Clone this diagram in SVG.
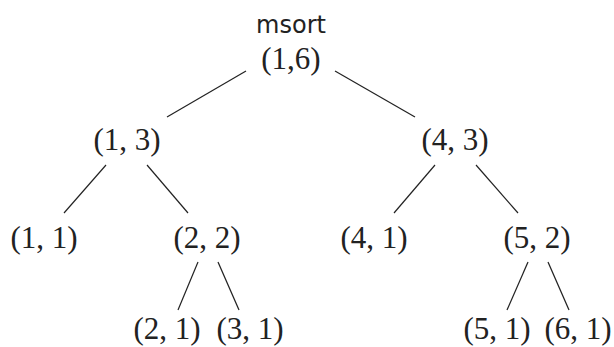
<svg xmlns="http://www.w3.org/2000/svg" width="614" height="347" viewBox="0 0 614 347">
<style>
.t{font-family:"Liberation Serif","DejaVu Serif",serif;font-size:31px;fill:#222;text-anchor:middle}
.s{font-family:"DejaVu Sans","Liberation Sans",sans-serif;font-size:24px;fill:#222;text-anchor:middle}
.e line{stroke:#222;stroke-width:1.2}
</style>
<rect width="614" height="347" fill="#fff"/>
<g class="e" id="edges">
<line x1="246" y1="71" x2="167" y2="117"/>
<line x1="335" y1="71" x2="415" y2="117"/>
<line x1="106" y1="165" x2="64" y2="213"/>
<line x1="147" y1="165" x2="188" y2="213"/>
<line x1="435" y1="165" x2="394" y2="213"/>
<line x1="476" y1="165" x2="518" y2="213"/>
<line x1="198" y1="262" x2="178" y2="310"/>
<line x1="218" y1="262" x2="239" y2="310"/>
<line x1="528" y1="262" x2="507" y2="310"/>
<line x1="548" y1="262" x2="569" y2="310"/>
</g>
<g id="root"><text class="s" x="291" y="33">msort</text><text class="t" x="291" y="69">(1,6)</text></g>
<g id="n13"><text class="t" x="127" y="150">(1, 3)</text></g>
<g id="n43"><text class="t" x="455" y="150">(4, 3)</text></g>
<g id="n11"><text class="t" x="44" y="248">(1, 1)</text></g>
<g id="n22"><text class="t" x="207" y="248">(2, 2)</text></g>
<g id="n41"><text class="t" x="374" y="248">(4, 1)</text></g>
<g id="n52"><text class="t" x="537" y="248">(5, 2)</text></g>
<g id="n21"><text class="t" x="167" y="339">(2, 1)</text></g>
<g id="n31"><text class="t" x="250" y="339">(3, 1)</text></g>
<g id="n51"><text class="t" x="497" y="339">(5, 1)</text></g>
<g id="n61"><text class="t" x="578" y="339">(6, 1)</text></g>
</svg>
